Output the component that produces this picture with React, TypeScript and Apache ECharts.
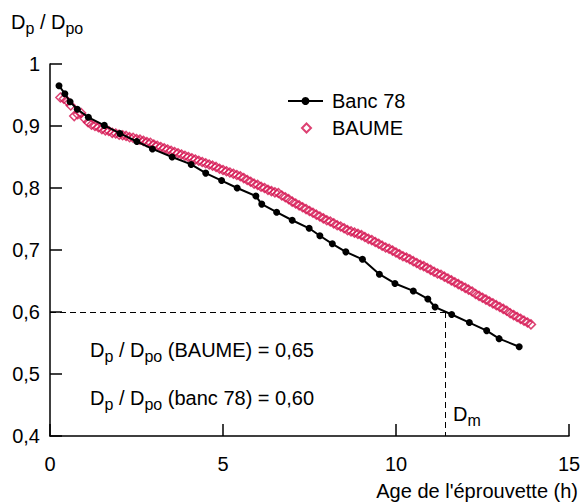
import React, { useEffect, useRef } from 'react';
import * as echarts from 'echarts';

// Banc 78 (black line with dots)
const bancHours = [0.26, 0.43, 0.58, 0.79, 1.11, 1.57, 2.02, 2.51, 2.96, 3.53, 4.08, 4.5, 4.96, 5.41, 5.95, 6.12, 6.55, 7.0, 7.49, 7.8, 8.16, 8.55, 9.03, 9.52, 9.97, 10.5, 10.92, 11.13, 11.61, 12.12, 12.62, 12.98, 13.56];
const bancRatio = [0.965, 0.952, 0.939, 0.927, 0.914, 0.901, 0.888, 0.875, 0.863, 0.85, 0.838, 0.824, 0.812, 0.8, 0.787, 0.774, 0.761, 0.748, 0.735, 0.723, 0.71, 0.697, 0.685, 0.661, 0.646, 0.634, 0.621, 0.608, 0.596, 0.583, 0.57, 0.557, 0.544];

// BAUME (pink hollow diamonds)
const baumeHours = [
  0.3, 0.4, 0.5, 0.6, 0.7, 0.8, 0.9, 1.0, 1.1, 1.2, 1.3, 1.4, 1.5, 1.6, 1.7, 1.8, 1.9, 2.0, 2.1, 2.2, 2.3, 2.4, 2.5, 2.6, 2.7, 2.8, 2.9,
  3.0, 3.1, 3.2, 3.3, 3.4, 3.5, 3.6, 3.7, 3.8, 3.9, 4.0, 4.1, 4.2, 4.3, 4.4, 4.5, 4.6, 4.7, 4.8, 4.9,
  5.0, 5.1, 5.2, 5.3, 5.4, 5.5, 5.6, 5.7, 5.8, 5.9, 6.0, 6.1, 6.2, 6.3, 6.4, 6.5, 6.6, 6.7, 6.8, 6.9,
  7.0, 7.1, 7.2, 7.3, 7.4, 7.5, 7.6, 7.7, 7.8, 7.9, 8.0, 8.1, 8.2, 8.3, 8.4, 8.5, 8.6, 8.7, 8.8, 8.9,
  9.0, 9.1, 9.2, 9.3, 9.4, 9.5, 9.6, 9.7, 9.8, 9.9, 10.0, 10.1, 10.2, 10.3, 10.4, 10.5, 10.6, 10.7, 10.8, 10.9,
  11.0, 11.1, 11.2, 11.3, 11.4, 11.5, 11.6, 11.7, 11.8, 11.9, 12.0, 12.1, 12.2, 12.3, 12.4, 12.5, 12.6, 12.7, 12.8, 12.9,
  13.0, 13.1, 13.2, 13.3, 13.4, 13.5, 13.6, 13.7, 13.8, 13.9,
];
const baumeRatio = [
  0.946, 0.944, 0.94, 0.933, 0.916, 0.919, 0.921, 0.912, 0.906, 0.902, 0.9, 0.898, 0.895, 0.893, 0.892, 0.889, 0.888, 0.886, 0.885, 0.884, 0.882, 0.881, 0.879, 0.878, 0.876, 0.874, 0.873,
  0.87, 0.868, 0.866, 0.864, 0.862, 0.86, 0.858, 0.856, 0.854, 0.852, 0.85, 0.848, 0.846, 0.844, 0.842, 0.84, 0.838, 0.836, 0.834, 0.831,
  0.829, 0.827, 0.825, 0.823, 0.821, 0.819, 0.816, 0.813, 0.81, 0.807, 0.805, 0.802, 0.8, 0.797, 0.795, 0.793, 0.792, 0.788, 0.785, 0.782,
  0.778, 0.775, 0.772, 0.769, 0.766, 0.763, 0.76, 0.757, 0.754, 0.751, 0.748, 0.746, 0.743, 0.74, 0.738, 0.735, 0.732, 0.73, 0.728, 0.726,
  0.724, 0.721, 0.718, 0.716, 0.713, 0.71, 0.707, 0.704, 0.702, 0.699, 0.696, 0.693, 0.69, 0.688, 0.685, 0.682, 0.679, 0.676, 0.674, 0.671,
  0.668, 0.665, 0.662, 0.66, 0.657, 0.654, 0.651, 0.648, 0.645, 0.642, 0.639, 0.636, 0.633, 0.629, 0.626, 0.623, 0.62, 0.617, 0.614, 0.611,
  0.608, 0.605, 0.602, 0.598, 0.595, 0.592, 0.589, 0.586, 0.583, 0.58,
];

const DM_HOUR = 11.42;
const DM_RATIO = 0.6;

const FONT = '"Liberation Sans", Arial, Helvetica, sans-serif';
const PINK = '#d4124f';

const rich = {
  m: { fontSize: 20, fontFamily: FONT, lineHeight: 22, verticalAlign: 'top', fill: '#000' },
  s: { fontSize: 16, fontFamily: FONT, lineHeight: 32, fill: '#000' },
};

function richText(x: number, y: number, text: string) {
  return {
    type: 'text',
    x,
    y,
    silent: true,
    style: { text, rich, fill: '#000', verticalAlign: 'top', align: 'left' },
  };
}

export default function App() {
  const ref = useRef<HTMLDivElement>(null);
  useEffect(() => {
    if (!ref.current) return;
    const chart = echarts.init(ref.current, null, { renderer: 'svg' });
    const axisLine = { show: true, lineStyle: { color: '#000', width: 1.5 } };
    const legendText = { fontSize: 20, fontFamily: FONT, color: '#000' };
    chart.setOption({
      animation: false,
      backgroundColor: '#fff',
      grid: { left: 50, right: 12, top: 64, bottom: 66, containLabel: false, outerBoundsMode: 'none' },
      legend: [
        {
          orient: 'vertical',
          left: 282,
          top: 86,
          itemWidth: 35,
          itemHeight: 10,
          data: ['Banc 78'],
          textStyle: { ...legendText, padding: [0, 0, 0, 4] },
        },
        {
          orient: 'vertical',
          left: 296,
          top: 113,
          itemWidth: 9,
          itemHeight: 9,
          data: ['BAUME'],
          textStyle: { ...legendText, padding: [0, 0, 0, 16] },
        },
      ],
      xAxis: {
        type: 'value',
        min: 0,
        max: 15,
        interval: 5,
        axisLine,
        axisTick: { show: true, inside: true, length: 12, lineStyle: { color: '#000', width: 1.5 } },
        splitLine: { show: false },
        axisLabel: { fontSize: 20, fontFamily: FONT, color: '#000', margin: 18 },
      },
      yAxis: {
        type: 'value',
        min: 0.4,
        max: 1,
        interval: 0.1,
        axisLine,
        axisTick: { show: true, inside: true, length: 12, lineStyle: { color: '#000', width: 1.5 } },
        splitLine: { show: false },
        axisLabel: {
          fontSize: 20,
          fontFamily: FONT,
          color: '#000',
          margin: 10,
          formatter: (v: number) => (Math.abs(v - 1) < 1e-9 ? '1' : v.toFixed(1).replace('.', ',')),
        },
      },
      series: [
        {
          name: 'BAUME',
          type: 'scatter',
          symbol: 'diamond',
          symbolSize: 9,
          data: baumeHours.map((h, i) => [h, baumeRatio[i]]),
          itemStyle: { color: 'rgba(255,255,255,0)', borderColor: PINK, borderWidth: 1.5 },
          z: 2,
        },
        {
          name: 'Banc 78',
          type: 'line',
          symbol: 'circle',
          symbolSize: 7,
          showAllSymbol: true,
          data: bancHours.map((h, i) => [h, bancRatio[i]]),
          lineStyle: { color: '#000', width: 2 },
          itemStyle: { color: '#000' },
          z: 3,
          markLine: {
            silent: true,
            symbol: 'none',
            label: { show: false },
            lineStyle: { color: '#000', width: 1, type: [6, 4] },
            data: [
              [{ coord: [0, DM_RATIO] }, { coord: [DM_HOUR, DM_RATIO] }],
              [{ coord: [DM_HOUR, DM_RATIO] }, { coord: [DM_HOUR, 0.4] }],
            ],
          },
        },
      ],
      graphic: [
        richText(11, 12, '{m|D}{s|p}{m| / D}{s|po}'),
        richText(90, 340, '{m|D}{s|p}{m| / D}{s|po}{m| (BAUME) = 0,65}'),
        richText(90, 388, '{m|D}{s|p}{m| / D}{s|po}{m| (banc 78) = 0,60}'),
        richText(453, 404, '{m|D}{s|m}'),
        {
          type: 'text',
          x: 578,
          y: 491,
          silent: true,
          style: {
            text: "Age de l'éprouvette (h)",
            fontSize: 20,
            fontFamily: FONT,
            fill: '#000',
            align: 'right',
            verticalAlign: 'middle',
          },
        },
      ],
    });
    return () => chart.dispose();
  }, []);
  return <div ref={ref} style={{ position: 'fixed', left: 0, top: 0, width: 581, height: 502, background: '#fff' }} />;
}
